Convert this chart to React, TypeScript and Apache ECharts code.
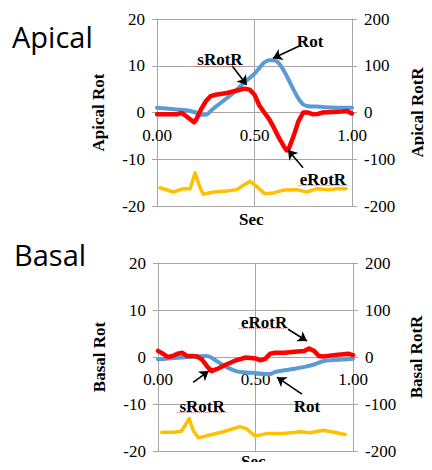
import React, { useEffect, useRef } from "react";
import * as echarts from "echarts";

// Apical (top panel) — x in seconds
const apicalRot: [number, number][] = [
  [0, 1.0], [0.05, 0.85], [0.1, 0.65], [0.15, 0.5], [0.2, 0.0], [0.225, -0.5], [0.25, -0.5],
  [0.275, 0.3], [0.3, 1.2], [0.35, 2.8], [0.4, 4.5], [0.45, 6.5], [0.5, 8.3], [0.525, 9.5],
  [0.55, 10.7], [0.575, 11.2], [0.6, 11.2], [0.625, 10.5], [0.65, 9.0], [0.675, 7.0],
  [0.7, 4.9], [0.725, 3.0], [0.75, 1.7], [0.775, 1.35], [0.8, 1.3], [0.85, 1.2], [0.9, 1.05],
  [0.95, 1.0], [1.0, 1.0],
];
const apicalRotR: [number, number][] = [
  [0, -4], [0.05, -4], [0.1, -4], [0.125, -1], [0.15, -8], [0.175, -16], [0.19, -21], [0.2, -16],
  [0.225, 6], [0.25, 24], [0.275, 35], [0.3, 38], [0.35, 41], [0.4, 46], [0.45, 51], [0.475, 49],
  [0.5, 38], [0.525, 15], [0.55, 0], [0.575, -14], [0.6, -33], [0.625, -54], [0.65, -72],
  [0.665, -81], [0.675, -78], [0.7, -51], [0.725, -19], [0.75, 0], [0.775, 0], [0.8, -4],
  [0.825, -3], [0.85, 0], [0.9, 1], [0.95, 2], [0.975, 3], [1.0, -2],
];
const apicalEcg: [number, number][] = [
  [0.015, -16.1], [0.085, -17.0], [0.135, -16.3], [0.17, -16.3], [0.195, -12.9], [0.22, -16.0],
  [0.237, -17.5], [0.29, -17.0], [0.357, -16.8], [0.41, -16.5], [0.44, -15.6], [0.477, -14.7],
  [0.51, -15.8], [0.554, -17.4], [0.597, -17.2], [0.65, -16.6], [0.716, -16.5], [0.768, -17.0],
  [0.82, -16.3], [0.887, -16.5], [0.92, -16.3], [0.97, -16.3],
];

// Basal (bottom panel)
const basalRot: [number, number][] = [
  [0, -0.5], [0.05, -0.3], [0.1, -0.15], [0.15, 0], [0.2, 0.1], [0.25, 0.2], [0.275, -0.15],
  [0.3, -0.85], [0.35, -2.1], [0.4, -3.0], [0.45, -3.3], [0.5, -3.4], [0.55, -3.6], [0.575, -3.6],
  [0.6, -3.2], [0.65, -2.8], [0.7, -2.5], [0.75, -2.1], [0.8, -1.6], [0.85, -0.85], [0.9, -0.65],
  [0.95, -0.55], [1.0, -0.35],
];
const basalRotR: [number, number][] = [
  [0, 13], [0.025, 7], [0.05, 0], [0.075, 2], [0.1, 7], [0.125, 9], [0.15, 2], [0.175, 2], [0.2, 1],
  [0.225, -5], [0.25, -19], [0.275, -30], [0.3, -26], [0.35, -16], [0.4, -7], [0.45, -1], [0.5, -3],
  [0.525, -7], [0.55, -4], [0.575, 7], [0.6, 9], [0.65, 9], [0.7, 11], [0.75, 13], [0.775, 18],
  [0.8, 13], [0.825, 2], [0.85, 1], [0.9, 4], [0.95, 6], [0.975, 7], [1.0, 4],
];
const basalEcg: [number, number][] = [
  [0.019, -16.0], [0.078, -16.0], [0.12, -15.8], [0.16, -13.1], [0.18, -15.6], [0.207, -17.2],
  [0.267, -16.6], [0.335, -15.9], [0.42, -14.8], [0.455, -15.3], [0.497, -16.8], [0.557, -16.3],
  [0.643, -16.3], [0.728, -15.9], [0.78, -16.1], [0.848, -15.6], [0.916, -16.1], [0.96, -16.5],
];

// Annotations: label text position, arrow tail (ax) and head (bx), in left-axis data units
const apicalNotes = [
  { text: "Rot", tx: 0.785, ty: 15.2, ax: [0.738, 14.4], bx: [0.595, 11.6], wavy: false },
  { text: "sRotR", tx: 0.323, ty: 11.3, ax: [0.385, 10.0], bx: [0.46, 5.9], wavy: true },
  { text: "eRotR", tx: 0.851, ty: -14.3, ax: [0.749, -11.8], bx: [0.672, -8.0], wavy: true },
];
const basalNotes = [
  { text: "eRotR", tx: 0.544, ty: 7.4, ax: [0.667, 5.9], bx: [0.764, 3.4], wavy: true },
  { text: "sRotR", tx: 0.226, ty: -10.5, ax: [0.18, -5.4], bx: [0.26, -3.0], wavy: true },
  { text: "Rot", tx: 0.764, ty: -10.5, ax: [0.738, -7.9], bx: [0.61, -4.3], wavy: false },
];

const SERIF = "'Liberation Serif', 'Times New Roman', serif";
const GRID_COLOR = "#A6A6A6";

function notesToMarks(notes: typeof apicalNotes) {
  const markPoint = {
    silent: true,
    symbol: "circle",
    symbolSize: 1,
    itemStyle: { color: "rgba(0,0,0,0)" },
    label: {
      show: true,
      position: "inside",
      color: "#000",
      fontFamily: SERIF,
      fontWeight: "bold",
      fontSize: 17,
    },
    data: notes.map((n) => ({
      coord: [n.tx, n.ty],
      value: n.text,
      label: { formatter: n.text },
    })),
  };
  const arrows: any[] = notes.map((n) => [
    { coord: n.ax, symbol: "none" },
    { coord: n.bx, symbol: "arrow" },
  ]);
  const markLine = {
    silent: true,
    symbolSize: 9,
    label: { show: false },
    lineStyle: { color: "#000", width: 1.6, type: "solid" },
    emphasis: { disabled: true },
    data: arrows,
  };
  return { markPoint, markLine };
}

function wavyUnder(notes: typeof apicalNotes, halfWidth: number, dy: number) {
  return notes
    .filter((n) => n.wavy)
    .map((n) => [
      { coord: [n.tx - halfWidth, n.ty - dy], symbol: "none" },
      { coord: [n.tx + halfWidth, n.ty - dy], symbol: "none" },
    ]);
}

function xAxis(gridIndex: number, offset: number) {
  return {
    type: "value",
    gridIndex,
    position: "bottom",
    offset,
    min: 0,
    max: 1,
    interval: 0.5,
    axisLine: { show: false, onZero: false },
    axisTick: { show: false },
    axisLabel: {
      formatter: (v: number) => v.toFixed(2),
      color: "#000",
      fontFamily: SERIF,
      fontSize: 17,
      margin: 14,
    },
    splitLine: { show: true, lineStyle: { color: GRID_COLOR, width: 1 } },
  };
}

function yLeft(gridIndex: number, name: string) {
  return {
    type: "value",
    gridIndex,
    position: "left",
    min: -20,
    max: 20,
    interval: 10,
    name,
    nameLocation: "middle",
    nameGap: 50,
    nameTextStyle: { color: "#000", fontFamily: SERIF, fontWeight: "bold", fontSize: 17 },
    axisLine: { show: true, onZero: false, lineStyle: { color: GRID_COLOR } },
    axisTick: { show: true, length: 5, lineStyle: { color: GRID_COLOR } },
    axisLabel: { color: "#000", fontFamily: SERIF, fontSize: 17, margin: 12 },
    splitLine: { show: true, lineStyle: { color: GRID_COLOR, width: 1 } },
  };
}

function yRight(gridIndex: number, name: string, gap: number) {
  return {
    type: "value",
    gridIndex,
    position: "right",
    min: -200,
    max: 200,
    interval: 100,
    name,
    nameLocation: "middle",
    nameGap: gap,
    nameRotate: 90,
    nameTextStyle: { color: "#000", fontFamily: SERIF, fontWeight: "bold", fontSize: 17 },
    axisLine: { show: true, onZero: false, lineStyle: { color: GRID_COLOR } },
    axisTick: { show: true, length: 5, lineStyle: { color: GRID_COLOR } },
    axisLabel: { color: "#000", fontFamily: SERIF, fontSize: 17, margin: 12 },
    splitLine: { show: false },
  };
}

function lineSeries(data: [number, number][], color: string, xi: number, yi: number, width: number, smooth: number | boolean, z: number) {
  return {
    type: "line",
    xAxisIndex: xi,
    yAxisIndex: yi,
    data,
    showSymbol: false,
    smooth,
    z,
    lineStyle: { color, width, cap: "round", join: "round" },
    itemStyle: { color },
    emphasis: { disabled: true },
  };
}

export default function App() {
  const ref = useRef<HTMLDivElement>(null);
  useEffect(() => {
    if (!ref.current) return;
    const chart = echarts.init(ref.current, undefined, { renderer: "svg" });
    const topMarks = notesToMarks(apicalNotes);
    const botMarks = notesToMarks(basalNotes);
    const wavyStyle = {
      silent: true,
      symbol: "none",
      label: { show: false },
      lineStyle: { color: "#FF6060", width: 1, type: "dotted" },
      emphasis: { disabled: true },
    };
    chart.setOption({
      animation: false,
      backgroundColor: "#fff",
      grid: [
        { left: 157, top: 19, width: 195, height: 187 },
        { left: 158, top: 263, width: 195, height: 188 },
      ],
      xAxis: [xAxis(0, -93.5), xAxis(1, -94)],
      yAxis: [
        yLeft(0, "Apical Rot"),
        yRight(0, "Apical RotR", 57),
        yLeft(1, "Basal Rot"),
        yRight(1, "Basal RotR", 55),
      ],
      graphic: [
        {
          type: "text",
          left: 12,
          top: 22,
          style: { text: "Apical", fontFamily: "'Open Sans', sans-serif", fontSize: 29, fill: "#000" },
        },
        {
          type: "text",
          left: 14,
          top: 240,
          style: { text: "Basal", fontFamily: "'Open Sans', sans-serif", fontSize: 29, fill: "#000" },
        },
        {
          type: "text",
          left: 239,
          top: 211,
          style: { text: "Sec", fontFamily: SERIF, fontWeight: "bold", fontSize: 17, fill: "#000" },
        },
        {
          type: "text",
          left: 241,
          top: 453,
          style: { text: "Sec", fontFamily: SERIF, fontWeight: "bold", fontSize: 17, fill: "#000" },
        },
      ],
      series: [
        lineSeries(apicalEcg, "#FFC000", 0, 0, 3.5, false, 2),
        {
          ...lineSeries(apicalRot, "#5B9BD5", 0, 0, 4, 0.35, 3),
          markPoint: topMarks.markPoint,
          markLine: topMarks.markLine,
        },
        lineSeries(apicalRotR, "#FF0000", 0, 1, 4.5, false, 4),
        lineSeries(basalEcg, "#FFC000", 1, 2, 3.5, false, 2),
        {
          ...lineSeries(basalRot, "#5B9BD5", 1, 2, 4, 0.35, 3),
          markPoint: botMarks.markPoint,
          markLine: botMarks.markLine,
        },
        lineSeries(basalRotR, "#FF0000", 1, 3, 4.5, false, 4),
        {
          type: "line",
          xAxisIndex: 0,
          yAxisIndex: 0,
          data: [],
          markLine: { ...wavyStyle, data: wavyUnder(apicalNotes, 0.13, 1.3) },
        },
        {
          type: "line",
          xAxisIndex: 1,
          yAxisIndex: 2,
          data: [],
          markLine: { ...wavyStyle, data: wavyUnder(basalNotes, 0.13, 1.3) },
        },
      ],
    });
    return () => chart.dispose();
  }, []);
  return <div ref={ref} style={{ width: 432, height: 470, margin: -8 }} />;
}
